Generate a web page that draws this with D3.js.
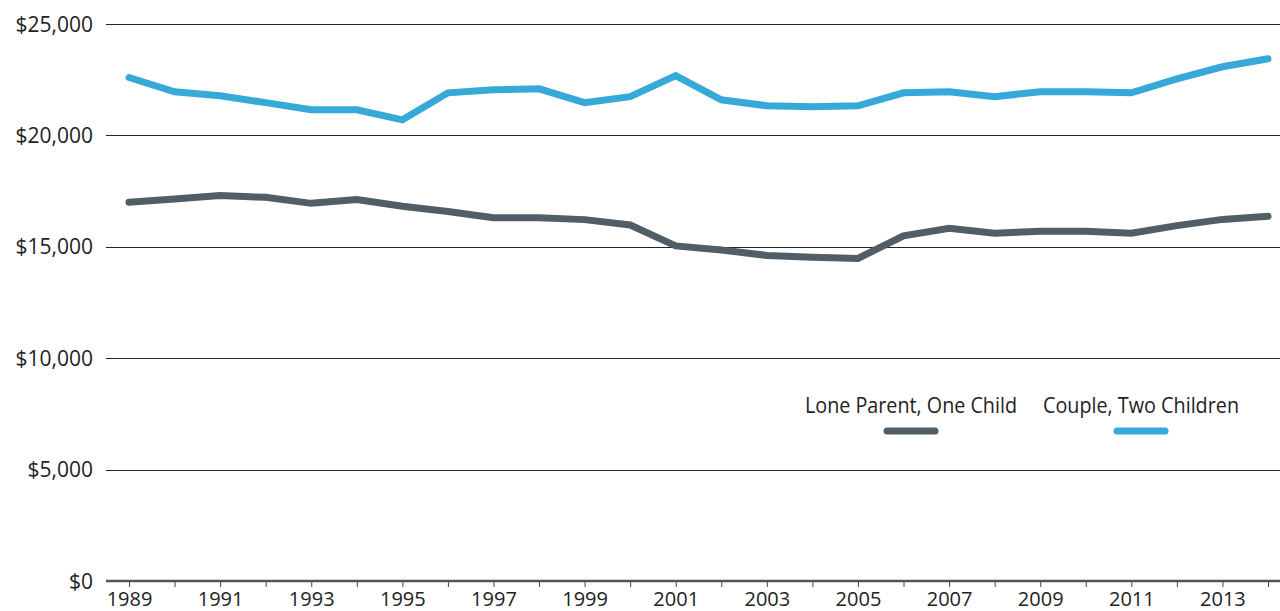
<!DOCTYPE html>
<html>
<head>
<meta charset="utf-8">
<script src="https://cdn.jsdelivr.net/npm/d3@7"></script>
<style>
  body { margin: 0; background: #fff; }
  svg { display: block; font-family: "Open Sans", sans-serif; }
  .grid line { stroke: #222; stroke-width: 1; }
  .tick text { fill: #222; }
</style>
</head>
<body>
<div id="chart"></div>
<script>
const years = d3.range(1989, 2015);
const loneParent = [17000, 17150, 17300, 17220, 16950, 17120, 16820, 16580, 16300, 16300,
  16220, 15980, 15040, 14860, 14610, 14530, 14480, 15490, 15830, 15610,
  15700, 15700, 15610, 15950, 16230, 16370];
const couple = [22600, 21960, 21780, 21470, 21150, 21150, 20700, 21910, 22050, 22090,
  21470, 21740, 22680, 21600, 21330, 21290, 21330, 21910, 21960, 21740,
  21960, 21960, 21910, 22540, 23080, 23440];
const yTicks = [0, 5000, 10000, 15000, 20000, 25000];
const xTicks = d3.range(1989, 2014, 2);
const seriesNames = ["Lone Parent, One Child", "Couple, Two Children"];
const seriesColors = ["#515e66", "#36a9d9"];

const W = 1280, H = 611;
const plotLeft = 106, plotRight = 1280, plotTop = 24, plotBottom = 581;

const svg = d3.select("#chart").append("svg")
  .attr("width", W)
  .attr("height", H);

const x = d3.scaleLinear().domain([1989, 2014]).range([129, 1268]);
const y = d3.scaleLinear().domain([0, 25000]).range([plotBottom, plotTop]);

// gridlines
svg.append("g").attr("class", "grid")
  .selectAll("line")
  .data(yTicks.filter(d => d > 0))
  .join("line")
  .attr("x1", plotLeft).attr("x2", plotRight)
  .attr("y1", d => Math.round(y(d)) + 0.5)
  .attr("y2", d => Math.round(y(d)) + 0.5);

// y labels
svg.append("g")
  .selectAll("text")
  .data(yTicks)
  .join("text")
  .attr("x", 93)
  .attr("y", d => y(d))
  .attr("dy", "0.36em")
  .attr("text-anchor", "end")
  .attr("font-size", 21)
  .attr("fill", "#222")
  .text(d => "$" + d3.format(",")(d));

// x axis
const xAxis = d3.axisBottom(x)
  .tickValues(years)
  .tickSize(6)
  .tickFormat(d => xTicks.includes(d) ? d : "");

const gx = svg.append("g")
  .attr("transform", `translate(0,${plotBottom})`)
  .call(xAxis);
gx.select(".domain").remove();
gx.selectAll(".tick line").attr("stroke", "#444").attr("stroke-width", 1);
gx.selectAll(".tick text")
  .attr("font-size", 20)
  .attr("font-family", "Open Sans, sans-serif")
  .attr("y", 11);

svg.append("line")
  .attr("x1", plotLeft).attr("x2", plotRight)
  .attr("y1", plotBottom).attr("y2", plotBottom)
  .attr("stroke", "#555")
  .attr("stroke-width", 2.5);

// series lines
const line = d3.line()
  .x((d, i) => x(years[i]))
  .y(d => y(d));

[loneParent, couple].forEach((s, i) => {
  svg.append("path")
    .datum(s)
    .attr("d", line)
    .attr("fill", "none")
    .attr("stroke", seriesColors[i])
    .attr("stroke-width", 7)
    .attr("stroke-linecap", "round")
    .attr("stroke-linejoin", "miter");
});

// legend
const legendX = [911, 1141];
const legendW = [212, 196];
const legend = svg.append("g")
  .selectAll("g")
  .data(seriesNames)
  .join("g")
  .attr("transform", (d, i) => `translate(${legendX[i]},0)`);

legend.append("text")
  .attr("y", 413)
  .attr("text-anchor", "middle")
  .attr("font-size", 21)
  .attr("textLength", (d, i) => legendW[i])
  .attr("lengthAdjust", "spacingAndGlyphs")
  .attr("fill", "#222")
  .text(d => d);

legend.append("line")
  .attr("x1", -24).attr("x2", 24)
  .attr("y1", 431).attr("y2", 431)
  .attr("stroke", (d, i) => seriesColors[i])
  .attr("stroke-width", 7)
  .attr("stroke-linecap", "round");
</script>
</body>
</html>
